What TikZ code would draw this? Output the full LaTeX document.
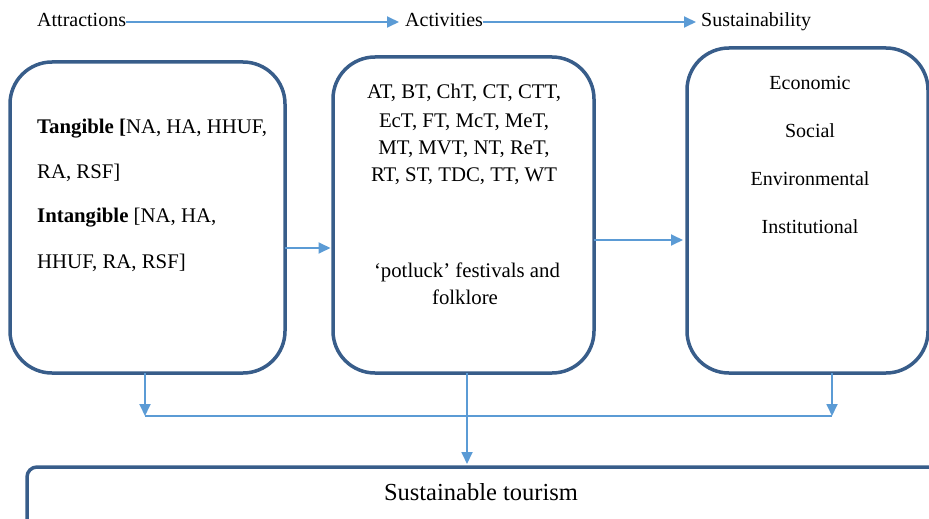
\documentclass[tikz,border=0pt]{standalone}
\usepackage{fontspec}
\setmainfont{Liberation Serif}
\usetikzlibrary{arrows.meta,positioning,calc}
\definecolor{boxblue}{RGB}{56,93,138}
\definecolor{arrowblue}{RGB}{91,155,213}
\tikzstyle{stage} = [rectangle, rounded corners=42pt, draw=boxblue, line width=3.5pt, inner sep=0pt, outer sep=0pt]
\tikzstyle{arrow} = [draw=arrowblue, line width=1.8pt, -{Triangle[length=12pt,width=11pt]}]
\tikzstyle{link} = [draw=arrowblue, line width=1.8pt]
\tikzstyle{txt} = [inner sep=0pt, font=\fontsize{20}{24}\selectfont]
\tikzstyle{boxtxt} = [inner sep=0pt, font=\fontsize{20.8}{24}\selectfont]

\begin{document}
\begin{tikzpicture}[x=1pt,y=-1pt]
\useasboundingbox (0,0) rectangle (929,519);
% headings along the top
\node (attr) [txt, anchor=base west] at (37,27) {Attractions};
\node (act) [txt, anchor=base west] at (405,27) {Activities};
\node (sus) [txt, anchor=base west] at (701,27) {Sustainability};
\coordinate (ha) at (0,22);
\draw [arrow, shorten >=6pt] (ha -| attr.east) -- (ha -| act.west);
\draw [arrow, shorten >=5pt] (ha -| act.east) -- (ha -| sus.west);
% the three boxes
\node (lbox) [stage, minimum width=275pt, minimum height=311pt] at (147.5,217.5) {};
\node (mbox) [stage, minimum width=261pt, minimum height=316pt] at (463.5,215) {};
\node (rbox) [stage, minimum width=241pt, minimum height=325pt] at (807.5,210.5) {};
\node (tbox) [stage, rounded corners=10pt, minimum width=940pt, minimum height=80pt] at (497,507) {};
% left box
\node (tan1) [boxtxt, anchor=base west] at (37,133) {\textbf{Tangible [}NA, HA, HHUF,};
\node (tan2) [boxtxt, anchor=base west] at (37,178) {RA, RSF]};
\node (int1) [boxtxt, anchor=base west] at (37,222) {\textbf{Intangible} [NA, HA,};
\node (int2) [boxtxt, anchor=base west] at (37,268) {HHUF, RA, RSF]};
% middle box
\node (act1) [boxtxt, anchor=base] at (464,99) {AT, BT, ChT, CT, CTT,};
\node (act2) [boxtxt, anchor=base] at (464,127) {EcT, FT, McT, MeT,};
\node (act3) [boxtxt, anchor=base] at (464,154) {MT, MVT, NT, ReT,};
\node (act4) [boxtxt, anchor=base] at (464,181) {RT, ST, TDC, TT, WT};
\node (pot1) [boxtxt, anchor=base] at (467,277) {‘potluck’ festivals and};
\node (pot2) [boxtxt, anchor=base] at (465,304) {folklore};
% right box
\node (eco) [txt, anchor=base] at (810,89) {Economic};
\node (soc) [txt, anchor=base] at (810,137) {Social};
\node (env) [txt, anchor=base] at (810,185) {Environmental};
\node (ins) [txt, anchor=base] at (810,233) {Institutional};
% bottom box
\node (st) [txt, anchor=base, font=\fontsize{24.5}{28}\selectfont] at (481,500) {Sustainable tourism};
% connectors
\coordinate (la) at (0,248);
\coordinate (ma) at (0,240);
\draw [arrow, shorten >=2.5pt] (la -| lbox.east) -- (la -| mbox.west);
\draw [arrow, shorten >=4pt] (ma -| mbox.east) -- (ma -| rbox.west);
\coordinate (jl) at (145,416);
\coordinate (jr) at (832,416);
\coordinate (jm) at (467,416);
\draw [arrow] (lbox.south -| jl) -- (jl);
\draw [arrow] (rbox.south -| jr) -- (jr);
\draw [link] (jl) -- (jr);
\draw [arrow, shorten >=3pt] (mbox.south -| jm) -- (tbox.north -| jm);
\end{tikzpicture}
\end{document}
